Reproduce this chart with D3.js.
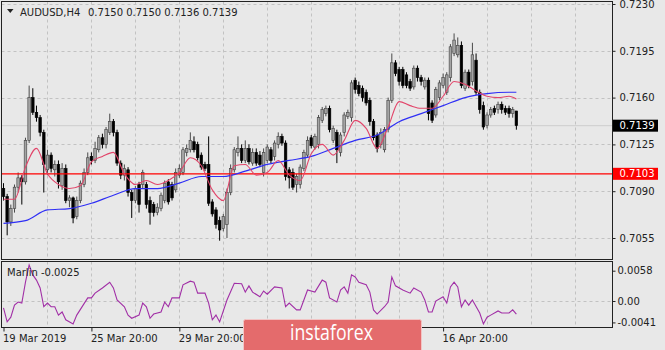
<!DOCTYPE html>
<html>
<head>
<meta charset="utf-8">
<script src="https://cdn.jsdelivr.net/npm/d3@7"></script>
<style>
  html, body { margin: 0; padding: 0; background: #e8e8e8; }
  svg { display: block; font-family: "DejaVu Sans", sans-serif; font-size: 10px; }
</style>
</head>
<body>
<svg id="chart" width="665" height="350"></svg>
<script>
// ---- AUDUSD H4 candles (bar 0 = 19 Mar 2019 20:00) ----
const symbolTitle = "AUDUSD,H4";
const lastQuote = "0.7150 0.7150 0.7136 0.7139";

const opens = [0.7092,0.7086,0.7067,0.7077,0.7093,0.7100,0.7097,0.7128,0.7160,0.7149,
  0.7145,0.7134,0.7106,0.7117,0.7106,0.7110,0.7094,0.7107,0.7083,0.7085,
  0.7071,0.7083,0.7095,0.7104,0.7116,0.7113,0.7121,0.7130,0.7125,0.7134,
  0.7142,0.7134,0.7111,0.7102,0.7106,0.7089,0.7083,0.7095,0.7095,0.7095,
  0.7083,0.7080,0.7074,0.7077,0.7083,0.7097,0.7095,0.7091,0.7102,0.7104,
  0.7119,0.7121,0.7127,0.7125,0.7117,0.7110,0.7110,0.7082,0.7076,0.7068,
  0.7062,0.7065,0.7089,0.7106,0.7119,0.7122,0.7113,0.7122,0.7111,0.7119,
  0.7117,0.7104,0.7113,0.7121,0.7116,0.7125,0.7131,0.7126,0.7106,0.7104,
  0.7095,0.7095,0.7107,0.7117,0.7130,0.7123,0.7125,0.7143,0.7148,0.7152,
  0.7128,0.7134,0.7119,0.7134,0.7146,0.7145,0.7173,0.7169,0.7167,0.7164,
  0.7158,0.7142,0.7132,0.7125,0.7121,0.7136,0.7158,0.7186,0.7181,0.7181,
  0.7177,0.7172,0.7168,0.7182,0.7175,0.7168,0.7173,0.7156,0.7147,0.7160,
  0.7169,0.7164,0.7175,0.7193,0.7192,0.7199,0.7167,0.7179,0.7172,0.7188,
  0.7164,0.7154,0.7139,0.7147,0.7152,0.7151,0.7155,0.7152,0.7152,0.7148,
  0.7150];
const highs = [0.7096,0.7088,0.7080,0.7095,0.7104,0.7102,0.7130,0.7169,0.7167,0.7154,
  0.7147,0.7136,0.7121,0.7119,0.7113,0.7113,0.7111,0.7110,0.7087,0.7086,
  0.7086,0.7098,0.7107,0.7119,0.7119,0.7127,0.7132,0.7133,0.7138,0.7148,
  0.7144,0.7136,0.7113,0.7110,0.7108,0.7091,0.7094,0.7097,0.7106,0.7097,
  0.7086,0.7082,0.7081,0.7089,0.7098,0.7099,0.7097,0.7107,0.7110,0.7123,
  0.7125,0.7134,0.7131,0.7127,0.7119,0.7112,0.7131,0.7084,0.7078,0.7071,
  0.7073,0.7092,0.7110,0.7123,0.7131,0.7125,0.7128,0.7125,0.7122,0.7122,
  0.7120,0.7122,0.7125,0.7123,0.7128,0.7134,0.7133,0.7128,0.7108,0.7107,
  0.7103,0.7110,0.7121,0.7131,0.7132,0.7133,0.7147,0.7153,0.7154,0.7154,
  0.7139,0.7136,0.7134,0.7149,0.7151,0.7173,0.7175,0.7172,0.7169,0.7166,
  0.7160,0.7144,0.7134,0.7137,0.7138,0.7160,0.7193,0.7188,0.7183,0.7183,
  0.7179,0.7174,0.7184,0.7184,0.7177,0.7175,0.7175,0.7158,0.7168,0.7173,
  0.7178,0.7179,0.7200,0.7208,0.7205,0.7202,0.7181,0.7181,0.7201,0.7193,
  0.7166,0.7157,0.7149,0.7153,0.7154,0.7157,0.7157,0.7154,0.7154,0.7153,
  0.7150];
const lows = [0.7083,0.7057,0.7064,0.7074,0.7089,0.7080,0.7095,0.7126,0.7147,0.7142,
  0.7131,0.7089,0.7102,0.7104,0.7101,0.7092,0.7091,0.7081,0.7078,0.7066,
  0.7069,0.7081,0.7093,0.7102,0.7110,0.7111,0.7119,0.7122,0.7122,0.7132,
  0.7131,0.7109,0.7099,0.7098,0.7086,0.7070,0.7081,0.7074,0.7092,0.7077,
  0.7065,0.7071,0.7072,0.7075,0.7081,0.7080,0.7083,0.7089,0.7100,0.7102,
  0.7116,0.7119,0.7119,0.7113,0.7106,0.7105,0.7079,0.7071,0.7062,0.7053,
  0.7060,0.7055,0.7087,0.7104,0.7116,0.7111,0.7111,0.7110,0.7109,0.7109,
  0.7108,0.7101,0.7111,0.7111,0.7113,0.7122,0.7124,0.7098,0.7092,0.7091,
  0.7089,0.7092,0.7105,0.7115,0.7122,0.7121,0.7122,0.7141,0.7146,0.7134,
  0.7126,0.7111,0.7116,0.7131,0.7144,0.7142,0.7163,0.7161,0.7157,0.7154,
  0.7139,0.7128,0.7119,0.7122,0.7119,0.7134,0.7156,0.7176,0.7169,0.7167,
  0.7167,0.7165,0.7166,0.7172,0.7169,0.7166,0.7143,0.7141,0.7145,0.7158,
  0.7167,0.7162,0.7172,0.7191,0.7190,0.7167,0.7165,0.7167,0.7169,0.7162,
  0.7148,0.7136,0.7137,0.7145,0.7147,0.7148,0.7148,0.7147,0.7145,0.7145,
  0.7136];
const closes = [0.7086,0.7067,0.7077,0.7093,0.7100,0.7097,0.7128,0.7160,0.7149,0.7145,
  0.7134,0.7110,0.7117,0.7107,0.7110,0.7097,0.7107,0.7083,0.7085,0.7070,
  0.7083,0.7096,0.7104,0.7115,0.7113,0.7122,0.7130,0.7125,0.7136,0.7142,
  0.7134,0.7111,0.7102,0.7107,0.7089,0.7083,0.7092,0.7080,0.7104,0.7080,
  0.7074,0.7074,0.7078,0.7087,0.7096,0.7082,0.7085,0.7104,0.7107,0.7121,
  0.7122,0.7128,0.7121,0.7115,0.7108,0.7107,0.7081,0.7073,0.7065,0.7061,
  0.7071,0.7089,0.7107,0.7121,0.7122,0.7113,0.7122,0.7112,0.7119,0.7111,
  0.7110,0.7119,0.7123,0.7113,0.7126,0.7131,0.7126,0.7101,0.7100,0.7093,
  0.7101,0.7108,0.7119,0.7128,0.7124,0.7131,0.7145,0.7151,0.7152,0.7136,
  0.7137,0.7121,0.7132,0.7147,0.7149,0.7171,0.7166,0.7163,0.7160,0.7156,
  0.7142,0.7130,0.7122,0.7134,0.7136,0.7158,0.7186,0.7178,0.7172,0.7169,
  0.7169,0.7167,0.7182,0.7175,0.7172,0.7173,0.7148,0.7143,0.7166,0.7171,
  0.7175,0.7177,0.7198,0.7203,0.7199,0.7169,0.7179,0.7169,0.7192,0.7164,
  0.7151,0.7138,0.7147,0.7151,0.7149,0.7155,0.7151,0.7149,0.7148,0.7151,
  0.7139];

// ---- moving averages (bar index, value) ----
const fastMaBars = [0,3,6,9,12,15,18,21,24,27,30,33,36,39,42,45,48,51,54,57,60,63,66,69,72,75,78,81,84,87,90,93,96,99,102,105,108,111,114,117,120,123,126,129,132,135,138,140];
const fastMaValues = [0.7084,0.7084,0.7108,0.7122,0.7103,0.7095,0.7092,0.7094,0.7112,0.7116,
  0.7119,0.7103,0.7095,0.7098,0.7095,0.7098,0.7104,0.7115,0.7109,0.7091,
  0.7083,0.7109,0.7110,0.7102,0.7104,0.7113,0.7102,0.7098,0.7118,0.7125,
  0.7117,0.7128,0.7143,0.7137,0.7122,0.7138,0.7157,0.7154,0.7152,0.7152,
  0.7161,0.7172,0.7170,0.7165,0.7161,0.7160,0.7161,0.7159];
const slowMaBars = [0,6,12,18,24,30,36,42,48,54,60,66,72,78,84,90,96,102,108,114,120,126,132,138,140];
const slowMaValues = [0.7066,0.7068,0.7076,0.7077,0.7081,0.7087,0.7092,0.7092,0.7096,0.7101,
  0.7101,0.7105,0.7110,0.7113,0.7116,0.7122,0.7128,0.7132,0.7142,0.7148,
  0.7154,0.7160,0.7163,0.7164,0.7164];

// ---- Marlin oscillator (bar index, value) ----
const marlinBars = [0,1,2,3,4,5,6,7,8,9,10,11,12,13,14,15,16,17,19,20,23,24,25,27,29,30,31,33,34,35,37,38,39,40,41,43,44,45,46,48,49,51,52,53,55,56,57,58,59,61,63,65,66,67,68,70,71,72,74,76,77,78,80,81,83,85,87,88,89,91,92,93,94,95,96,97,99,100,101,102,104,105,106,107,109,111,112,114,115,116,117,118,120,121,122,123,124,125,126,127,128,130,131,132,133,135,136,138,139,140];
const marlinValues = [-0.0013,-0.0040,-0.0031,-0.0008,-0.0002,-0.0004,0.0036,0.0069,0.0050,0.0040,
  0.0025,-0.0011,-0.0004,-0.0011,-0.0011,-0.0027,-0.0021,-0.0036,-0.0044,-0.0027,
  0.0006,0.0006,0.0015,0.0025,0.0036,0.0025,0.0002,-0.0011,-0.0027,-0.0033,
  -0.0027,-0.0004,-0.0011,-0.0033,-0.0025,-0.0021,-0.0002,-0.0011,0.0006,0.0006,
  0.0031,0.0038,0.0036,0.0015,0.0015,-0.0004,-0.0036,-0.0027,-0.0040,0.0002,
  0.0034,0.0033,0.0017,0.0029,0.0017,0.0008,0.0019,0.0013,0.0027,0.0025,
  -0.0011,-0.0004,-0.0017,-0.0017,0.0021,0.0017,0.0040,0.0036,0.0006,-0.0002,
  0.0021,0.0027,0.0015,0.0050,0.0046,0.0036,0.0031,0.0017,-0.0017,-0.0025,
  -0.0011,-0.0002,0.0046,0.0029,0.0021,0.0015,0.0025,0.0017,0.0002,-0.0021,
  -0.0021,0.0000,0.0008,-0.0004,0.0027,0.0036,0.0027,-0.0011,0.0002,-0.0008,
  0.0002,-0.0023,-0.0044,-0.0031,-0.0027,-0.0019,-0.0023,-0.0023,-0.0017,-0.0025];
const marlinLast = -0.0025;

// ---- scales, ticks, levels ----
const priceTicks = [0.7230, 0.7195, 0.7160, 0.7125, 0.7090, 0.7055];
const marlinTicks = [0.0058, 0, -0.0041];
const levelPrice = 0.7103;
const bidPrice = 0.7139;
const gridBars = [12,24,36,48,60,72,84,96,108,120,132,144,156];
// time scale marks; the two under the broker badge carry no visible label
const timeTickBars = [0, 24, 48, 72, 96, 120];
const timeTickLabels = ["19 Mar 2019", "25 Mar 20:00", "29 Mar 20:00", "", "", "16 Apr 20:00"];

// ---- layout ----
const W = 665, H = 350;
const L = 1.5, R = 612.5;
const mainTop = 1.5, mainBottom = 259.5;
const subTop = 261.5, subBottom = 327.5;

const fmt4 = v => v.toFixed(4);   // plain hyphen minus, as the terminal prints it

const svg = d3.select("#chart");
svg.append("rect").attr("width", W).attr("height", H).attr("fill", "#e8e8e8");

const x = d3.scaleLinear().domain([0, 120]).range([3.5, 443.1]);
const y = d3.scaleLinear().domain([0.7055, 0.7230]).range([238, 4]);
const yo = d3.scaleLinear().domain([0, 0.0058]).range([301, 270.7]);

const defs = svg.append("defs");
defs.append("clipPath").attr("id", "clipMain").append("rect")
  .attr("x", L).attr("y", mainTop).attr("width", R - L).attr("height", mainBottom - mainTop);
defs.append("clipPath").attr("id", "clipSub").append("rect")
  .attr("x", L).attr("y", subTop).attr("width", R - L).attr("height", subBottom - subTop);

const gridColor = "#c2c2c2";

// ---- main panel ----
const main = svg.append("g").attr("clip-path", "url(#clipMain)");
main.selectAll("line.vg").data(gridBars).join("line")
  .attr("x1", d => Math.round(x(d)) + 0.5).attr("x2", d => Math.round(x(d)) + 0.5)
  .attr("y1", mainTop).attr("y2", mainBottom)
  .attr("stroke", gridColor).attr("stroke-dasharray", "3,3");
main.selectAll("line.hg").data(priceTicks).join("line")
  .attr("x1", L).attr("x2", R)
  .attr("y1", d => Math.round(y(d)) + 0.5).attr("y2", d => Math.round(y(d)) + 0.5)
  .attr("stroke", gridColor).attr("stroke-dasharray", "3,3");

// bid line
main.append("line").attr("x1", L).attr("x2", R)
  .attr("y1", y(bidPrice)).attr("y2", y(bidPrice))
  .attr("stroke", "#d2d2d2").attr("stroke-width", 1.2);

// candles
const bars = opens.map((o, i) => ({ i, o, h: highs[i], l: lows[i], c: closes[i] }));
const bw = 2.6;
const candle = main.selectAll("g.candle").data(bars).join("g");
candle.append("line")
  .attr("x1", d => x(d.i)).attr("x2", d => x(d.i))
  .attr("y1", d => y(d.h)).attr("y2", d => y(d.l))
  .attr("stroke", d => d.c >= d.o ? "#4a4a4a" : "#000").attr("stroke-width", 1);
candle.append("rect")
  .attr("x", d => x(d.i) - bw / 2)
  .attr("y", d => y(Math.max(d.o, d.c)))
  .attr("width", bw)
  .attr("height", d => Math.max(1, Math.abs(y(d.o) - y(d.c))))
  .attr("fill", d => d.c >= d.o ? "#a4a4a4" : "#000")
  .attr("stroke", d => d.c >= d.o ? "#404040" : "#000")
  .attr("stroke-width", 0.6);

// horizontal level
main.append("line").attr("x1", L).attr("x2", R)
  .attr("y1", y(levelPrice)).attr("y2", y(levelPrice))
  .attr("stroke", "#ff0000").attr("stroke-width", 1.2);

// moving averages
const maLine = d3.line().x(d => x(d[0])).y(d => y(d[1])).curve(d3.curveMonotoneX);
main.append("path").datum(d3.zip(slowMaBars, slowMaValues))
  .attr("d", maLine).attr("fill", "none").attr("stroke", "#2f2ff5").attr("stroke-width", 1.2);
main.append("path").datum(d3.zip(fastMaBars, fastMaValues))
  .attr("d", maLine).attr("fill", "none").attr("stroke", "#e2456a").attr("stroke-width", 1.1);

// title
svg.append("path").attr("d", "M7,9 L13.5,9 L10.25,13 Z").attr("fill", "#222");
svg.append("text").attr("x", 20).attr("y", 15.5).attr("fill", "#222").text(symbolTitle);
svg.append("text").attr("x", 88).attr("y", 15.5).attr("fill", "#222").text(lastQuote);

// ---- sub panel: Marlin ----
const sub = svg.append("g").attr("clip-path", "url(#clipSub)");
sub.selectAll("line.vg").data(gridBars).join("line")
  .attr("x1", d => Math.round(x(d)) + 0.5).attr("x2", d => Math.round(x(d)) + 0.5)
  .attr("y1", subTop).attr("y2", subBottom)
  .attr("stroke", gridColor).attr("stroke-dasharray", "3,3");
sub.append("line").attr("x1", L).attr("x2", R)
  .attr("y1", Math.round(yo(0)) + 0.5).attr("y2", Math.round(yo(0)) + 0.5)
  .attr("stroke", gridColor).attr("stroke-dasharray", "3,3");
sub.append("path").datum(d3.zip(marlinBars, marlinValues))
  .attr("d", d3.line().x(d => x(d[0])).y(d => yo(d[1])))
  .attr("fill", "none").attr("stroke", "#a12fa6").attr("stroke-width", 1.1);
svg.append("text").attr("x", 7).attr("y", 276).attr("fill", "#222")
  .text("Marlin " + fmt4(marlinLast));

// panel frames
[[mainTop, mainBottom], [subTop, subBottom]].forEach(([t, b]) => {
  svg.append("rect").attr("x", L).attr("y", t).attr("width", R - L).attr("height", b - t)
    .attr("fill", "none").attr("stroke", "#222").attr("stroke-width", 1);
});

// ---- axes ----
const yAxis = svg.append("g").attr("transform", `translate(${R},0)`)
  .call(d3.axisRight(y).tickValues(priceTicks).tickSize(3).tickPadding(4).tickFormat(fmt4));
const yoAxis = svg.append("g").attr("transform", `translate(${R},0)`)
  .call(d3.axisRight(yo).tickValues(marlinTicks).tickSize(3).tickPadding(2)
    .tickFormat(d => d === 0 ? "0.00" : fmt4(d)));
const xAxis = svg.append("g").attr("transform", `translate(0,${subBottom})`)
  .call(d3.axisBottom(x).tickValues(timeTickBars).tickSize(4).tickPadding(3)
    .tickFormat((d, i) => timeTickLabels[i]));
xAxis.selectAll("text").attr("text-anchor", "start").attr("dx", -1);
[yAxis, yoAxis, xAxis].forEach(g => {
  g.select(".domain").remove();
  g.selectAll("line").attr("stroke", "#222");
  g.selectAll("text").attr("fill", "#222").attr("font-size", 10)
    .attr("font-family", "DejaVu Sans, sans-serif");
});

// price tags on the right scale
const tags = [
  { p: bidPrice, bg: "#000" },
  { p: levelPrice, bg: "#ff0000" }
];
tags.forEach(t => {
  const g = svg.append("g");
  g.append("rect").attr("x", R + 0.5).attr("y", y(t.p) - 6).attr("width", 45).attr("height", 12).attr("fill", t.bg);
  g.append("text").attr("x", R + 7).attr("y", y(t.p)).attr("dy", "0.34em").attr("fill", "#fff")
    .text(fmt4(t.p));
});

// ---- broker badge ----
const badge = svg.append("g");
badge.append("rect").attr("x", 243.5).attr("y", 319.5).attr("width", 178).attr("height", 34).attr("rx", 2)
  .attr("fill", "#e46b6c").attr("stroke", "#f2c4c4").attr("stroke-width", 1);
badge.append("text").attr("x", 290).attr("y", 340).attr("fill", "#fff")
  .attr("font-family", "Open Sans, sans-serif").attr("font-size", 22)
  .attr("textLength", 83).attr("lengthAdjust", "spacingAndGlyphs")
  .text("instaforex");
</script>
</body>
</html>
